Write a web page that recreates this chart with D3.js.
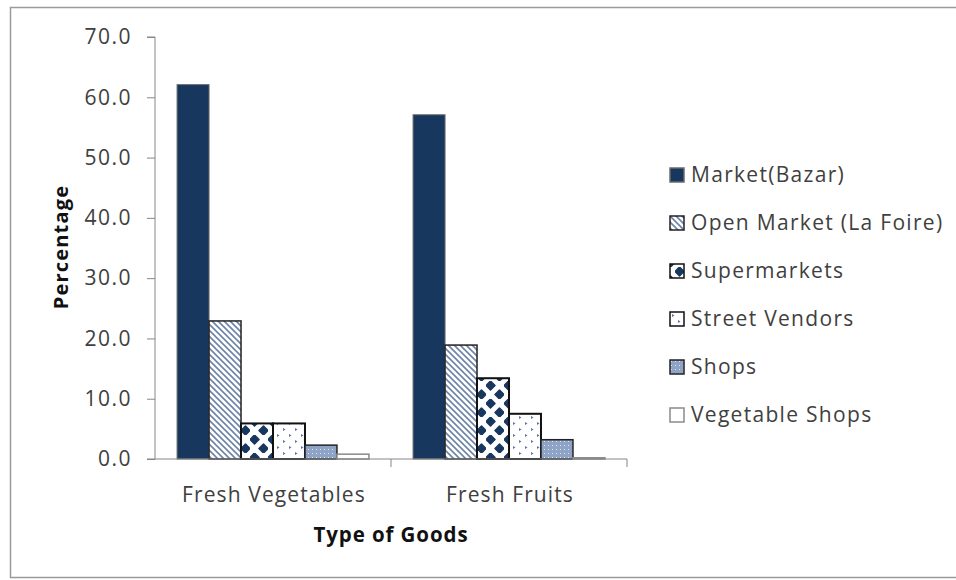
<!DOCTYPE html>
<html>
<head>
<meta charset="utf-8">
<script src="https://cdn.jsdelivr.net/npm/d3@7"></script>
<style>
  body { margin: 0; background: #fff; }
  text { font-family: "Open Sans", sans-serif; }
</style>
</head>
<body>
<svg id="chart" width="956" height="580"></svg>
<script>
// DATA
// ----------------------------------------
const CATEGORIES = ["Fresh Vegetables", "Fresh Fruits"];
const SERIES = ["Market(Bazar)", "Open Market (La Foire)", "Supermarkets", "Street Vendors", "Shops", "Vegetable Shops"];
const VALUES = [
    [62.1, 22.9, 5.9, 5.9, 2.3, 0.8],   // Fresh Vegetables
    [57.1, 18.9, 13.4, 7.5, 3.2, 0.2]   // Fresh Fruits
];
const Y_TICKS = [0, 10, 20, 30, 40, 50, 60, 70];

const NAVY = "#17375E";
const AXIS = "#868686";
const TEXT = "#404040";

const svg = d3.select("#chart");

// outer frame
svg.append("rect")
    .attr("x", 10.5).attr("y", 7.5)
    .attr("width", 960).attr("height", 570)
    .attr("fill", "none").attr("stroke", "#9a9a9a").attr("stroke-width", 1.5);

// PATTERNS
// ----------------------------------------
const defs = svg.append("defs");

const diag = defs.append("pattern").attr("id", "p-diag")
    .attr("patternUnits", "userSpaceOnUse").attr("width", 6).attr("height", 6);
diag.append("rect").attr("width", 6).attr("height", 6).attr("fill", "#fff");
diag.append("path").attr("d", "M-1,-1 L7,7 M-4,2 L4,10 M2,-4 L10,4")
    .attr("stroke", "#6d84a8").attr("stroke-width", 1.6);

const dia = defs.append("pattern").attr("id", "p-diamond")
    .attr("patternUnits", "userSpaceOnUse").attr("width", 18).attr("height", 18)
    .attr("x", 5).attr("y", 3);
dia.append("rect").attr("width", 18).attr("height", 18).attr("fill", "#fff");
dia.append("path").attr("d", "M4.5,0 L9,4.5 L4.5,9 L0,4.5 Z M13.5,9 L18,13.5 L13.5,18 L9,13.5 Z")
    .attr("fill", NAVY).attr("stroke", NAVY).attr("stroke-width", 1.5).attr("stroke-linejoin", "round");

const sp = defs.append("pattern").attr("id", "p-sparse")
    .attr("patternUnits", "userSpaceOnUse").attr("width", 12).attr("height", 12);
sp.append("rect").attr("width", 12).attr("height", 12).attr("fill", "#fff");
sp.append("path").attr("d", "M2,2 l2.5,1.5 l-2.5,1.5 z M8,8 l2.5,1.5 l-2.5,1.5 z")
    .attr("fill", "#5a74a0");

const sh = defs.append("pattern").attr("id", "p-shops")
    .attr("patternUnits", "userSpaceOnUse").attr("width", 4).attr("height", 4);
sh.append("rect").attr("width", 4).attr("height", 4).attr("fill", "#8ea3c6");
sh.append("rect").attr("x", 1).attr("y", 1).attr("width", 1).attr("height", 1).attr("fill", "#dfe6f1");

const FILLS = [NAVY, "url(#p-diag)", "url(#p-diamond)", "url(#p-sparse)", "url(#p-shops)", "#fff"];
const STROKES = ["#6b6b6b", "#222", "#111", "#111", "#222", "#8a8a8a"];
const STROKE_W = [1, 1.5, 2, 2, 1.5, 1.5];

// SCALES
// ----------------------------------------
const plot = { left: 155, right: 627, top: 37, bottom: 459 };

const y = d3.scaleLinear().domain([0, 70]).range([plot.bottom, plot.top]);
const x0 = d3.scaleBand().domain(CATEGORIES).range([plot.left, plot.right]).paddingInner(0).paddingOuter(0);
const x1 = d3.scaleBand().domain(SERIES).range([0, x0.bandwidth()]).paddingInner(0).paddingOuter(0.69);

// AXES
// ----------------------------------------
const yAxis = svg.append("g")
    .attr("transform", `translate(${plot.left},0)`)
    .call(d3.axisLeft(y).tickValues(Y_TICKS).tickSize(8).tickPadding(15).tickFormat(d3.format(".1f")));
yAxis.select(".domain").attr("stroke", AXIS).attr("d", `M-8,${plot.top}H0V${plot.bottom}`);
yAxis.selectAll(".tick line").attr("stroke", AXIS);
yAxis.selectAll(".tick text").attr("fill", TEXT)
    .style("font-size", "21px").style("font-family", "Open Sans").style("letter-spacing", "1.5px");

// BARS
// ----------------------------------------
const groups = svg.append("g").selectAll("g")
    .data(CATEGORIES)
    .join("g")
    .attr("transform", d => `translate(${x0(d)},0)`);

groups.selectAll("rect")
    .data((d, i) => SERIES.map((s, j) => ({ s, j, v: VALUES[i][j] })))
    .join("rect")
    .attr("x", d => x1(d.s))
    .attr("width", x1.bandwidth())
    .attr("y", d => y(d.v))
    .attr("height", d => y(0) - y(d.v))
    .attr("fill", d => FILLS[d.j])
    .attr("stroke", d => STROKES[d.j])
    .attr("stroke-width", d => STROKE_W[d.j]);

const xAxis = svg.append("g")
    .attr("transform", `translate(0,${plot.bottom})`);
xAxis.append("path")
    .attr("d", `M${plot.left - 8},0H${plot.right}V8`)
    .attr("fill", "none").attr("stroke", AXIS);
xAxis.selectAll("line.sep")
    .data(CATEGORIES.slice(1))
    .join("line")
    .attr("x1", d => x0(d)).attr("x2", d => x0(d))
    .attr("y1", 0).attr("y2", 8)
    .attr("stroke", AXIS);
xAxis.selectAll("text")
    .data(CATEGORIES)
    .join("text")
    .attr("x", d => x0(d) + x0.bandwidth() / 2 + 1)
    .attr("y", 43)
    .attr("text-anchor", "middle")
    .attr("fill", TEXT)
    .style("font-size", "21px").style("letter-spacing", "1.1px")
    .text(d => d);

// AXIS TITLES
// ----------------------------------------
svg.append("text")
    .attr("transform", `translate(68,${(plot.top + plot.bottom) / 2 - 1}) rotate(-90)`)
    .attr("text-anchor", "middle")
    .style("font-size", "20px").style("font-weight", "bold").style("letter-spacing", "1.2px")
    .attr("fill", "#111")
    .text("Percentage");

svg.append("text")
    .attr("x", (plot.left + plot.right) / 2)
    .attr("y", 542)
    .attr("text-anchor", "middle")
    .style("font-size", "20.5px").style("font-weight", "bold").style("letter-spacing", "0.9px")
    .attr("fill", "#111")
    .text("Type of Goods");

// LEGEND
// ----------------------------------------
const legend = svg.append("g").attr("transform", "translate(670,168)");
const items = legend.selectAll("g")
    .data(SERIES)
    .join("g")
    .attr("transform", (d, i) => `translate(0,${i * 48})`);
items.append("rect")
    .attr("width", 14).attr("height", 14)
    .attr("fill", (d, i) => FILLS[i])
    .attr("stroke", (d, i) => STROKES[i])
    .attr("stroke-width", 1.5);
items.append("text")
    .attr("x", 21).attr("y", 14)
    .attr("fill", TEXT)
    .style("font-size", "21px").style("letter-spacing", "1.3px")
    .text(d => d);
</script>
</body>
</html>
